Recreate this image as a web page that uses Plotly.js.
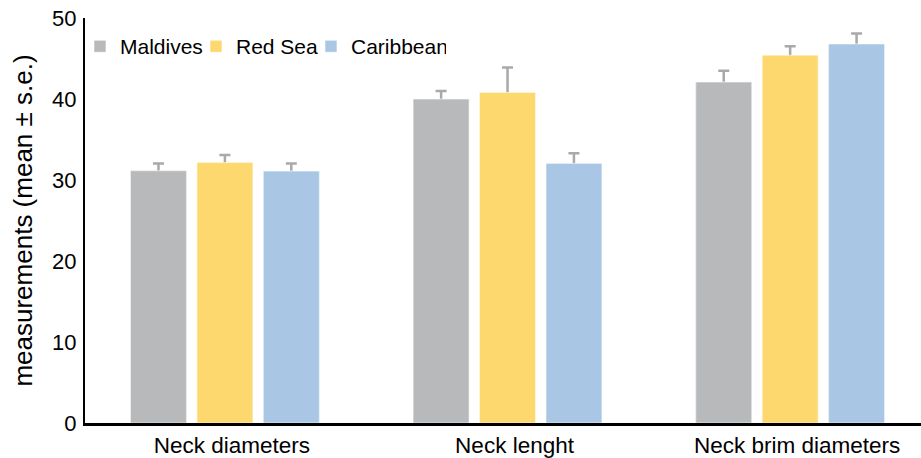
<!DOCTYPE html>
<html>
<head>
<meta charset="utf-8">
<script src="https://cdn.plot.ly/plotly-3.0.1.min.js"></script>
<style>html,body{margin:0;padding:0;background:#fff;}#chart{width:921px;height:458px;}</style>
</head>
<body>
<div id="chart"></div>
<script>
const categories = ["Neck diameters", "Neck lenght", "Neck brim diameters"];
const seriesNames = ["Maldives", "Red Sea", "Caribbean"];
const maldives = [31.15, 40.0, 42.1];
const maldivesSE = [0.9, 1.0, 1.4];
const redSea = [32.15, 40.8, 45.4];
const redSeaSE = [0.95, 3.1, 1.1];
const caribbean = [31.1, 32.05, 46.8];
const caribbeanSE = [0.95, 1.25, 1.3];
const yTicks = [0, 10, 20, 30, 40, 50];

const font = "Liberation Sans, Arial, sans-serif";
const colors = ["#b8b9bb", "#fcd86e", "#a9c6e4"];
const values = [maldives, redSea, caribbean];
const errors = [maldivesSE, redSeaSE, caribbeanSE];
const legendWidths = [71, 70, 90];

// error-bar carriers first (drawn underneath), then the visible bars on top
const errTraces = values.map((y, i) => ({
  type: "bar", name: seriesNames[i], x: categories, y: y, offsetgroup: "g" + i,
  showlegend: false, marker: {color: colors[i]},
  error_y: {type: "data", array: errors[i], color: "#a9a9a9", thickness: 2.5, width: 5.5}
}));
const barTraces = values.map((y, i) => ({
  type: "bar", name: seriesNames[i], x: categories, y: y, offsetgroup: "g" + i,
  legendwidth: legendWidths[i],
  marker: {color: colors[i], line: {color: "rgba(255,255,255,0.6)", width: 1}}
}));
const data = errTraces.concat(barTraces);

const layout = {
  width: 921, height: 458,
  margin: {l: 85, r: 0, t: 18, b: 35},
  paper_bgcolor: "#fff", plot_bgcolor: "#fff",
  barmode: "group", bargap: 0.295, bargroupgap: 0.158,
  font: {family: font, color: "#000", size: 21},
  showlegend: true,
  legend: {orientation: "h", x: -0.006, xanchor: "left", y: 0.98, yanchor: "top",
           font: {family: font, size: 21}, bgcolor: "rgba(0,0,0,0)", traceorder: "normal"},
  xaxis: {type: "category", range: [-0.495, 2.463], showgrid: false, zeroline: false,
          showline: true, linecolor: "#000", linewidth: 3, ticks: "", ticklen: 0,
          ticklabelshift: 7, ticklabelstandoff: 0,
          tickfont: {family: font, size: 22.5}, fixedrange: true},
  yaxis: {range: [0, 50], tickvals: yTicks, ticktext: yTicks.map(String), showgrid: false, zeroline: false,
          showline: true, linecolor: "#000", linewidth: 2, ticks: "", ticklen: 0, ticklabelstandoff: 2,
          tickfont: {family: font, size: 22},
          title: {text: "measurements (mean ± s.e.)", font: {family: font, size: 26}, standoff: 12}}
};
Plotly.newPlot("chart", data, layout, {displayModeBar: false, staticPlot: true});
</script>
</body>
</html>
